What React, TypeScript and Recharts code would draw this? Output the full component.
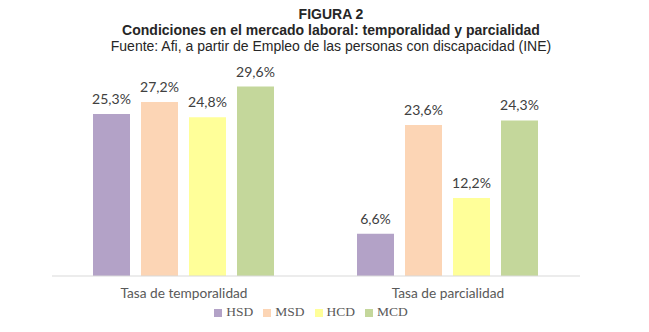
import React from "react";
import { BarChart, Bar, XAxis, YAxis, Legend, LabelList } from "recharts";

const categories = ["Tasa de temporalidad", "Tasa de parcialidad"];
const hsd = [25.3, 6.6];
const msd = [27.2, 23.6];
const hcd = [24.8, 12.2];
const mcd = [29.6, 24.3];
const seriesNames = ["HSD", "MSD", "HCD", "MCD"];
const seriesColors = ["#B3A2C7", "#FCD5B5", "#FFFF99", "#C4D79B"];
const titleLines = [
  "FIGURA 2",
  "Condiciones en el mercado laboral: temporalidad y parcialidad",
  "Fuente: Afi, a partir de Empleo de las personas con discapacidad (INE)",
];

const data = categories.map((c, i) => ({
  name: c,
  HSD: hsd[i],
  MSD: msd[i],
  HCD: hcd[i],
  MCD: mcd[i],
}));

const fmt = (v: any) => `${String(v).replace(".", ",")}%`;

export default function App() {
  return (
    <div style={{ position: "absolute", left: 0, top: 0, width: 649, height: 332, background: "#fff" }}>
      <div style={{ position: "absolute", top: 6, left: 0, width: 662, textAlign: "center", fontFamily: "Liberation Sans, Arial, sans-serif", fontSize: 14, lineHeight: "16px", color: "#262626" }}>
        <div style={{ fontWeight: "bold" }}>{titleLines[0]}</div>
        <div style={{ fontWeight: "bold" }}>{titleLines[1]}</div>
        <div>{titleLines[2]}</div>
      </div>
      <div style={{ position: "absolute", left: 0, top: 0 }}>
        <BarChart
          width={649}
          height={332}
          data={data}
          margin={{ top: 52, right: 69, left: 52, bottom: 36 }}
          barCategoryGap={41}
          barGap={11}
        >
          <XAxis
            dataKey="name"
            axisLine={{ stroke: "#D9D9D9" }}
            tickLine={false}
            height={20}
            tickMargin={6}
            tick={{ fill: "#595959", fontSize: 13.7, fontFamily: "Lato, sans-serif" }}
          />
          <YAxis hide domain={[0, 35]} />
          <Legend
            layout="horizontal"
            verticalAlign="middle"
            align="center"
            iconType="square"
            iconSize={8}
            itemSorter={(item: any) => seriesNames.indexOf(item.value)}
            wrapperStyle={{ top: 304, left: 0, width: 632, fontFamily: "Liberation Serif, serif", fontSize: 13.5 }}
            formatter={(v: any) => <span style={{ color: "#595959" }}>{v}</span>}
          />
          {seriesNames.map((s, i) => (
            <Bar key={s} dataKey={s} fill={seriesColors[i]} isAnimationActive={false}>
              <LabelList
                dataKey={s}
                position="top"
                offset={10}
                formatter={fmt}
                style={{ fill: "#404040", fontSize: 14, fontFamily: "Lato, sans-serif" }}
              />
            </Bar>
          ))}
        </BarChart>
      </div>
    </div>
  );
}
